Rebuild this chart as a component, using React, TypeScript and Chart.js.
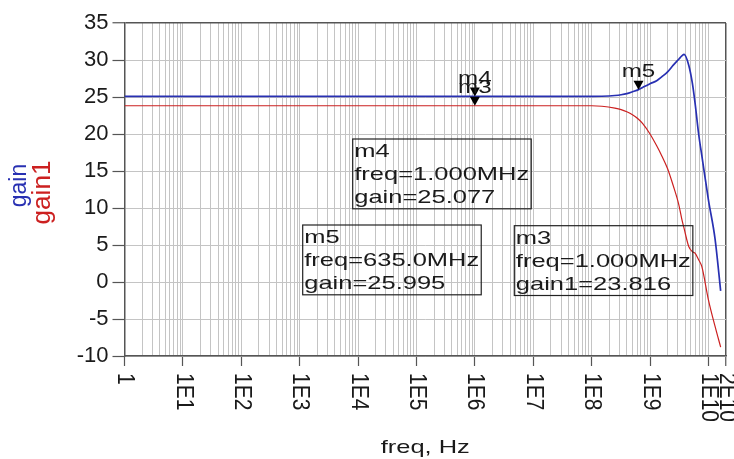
import React, { useEffect, useRef } from 'react';
import { Chart, registerables } from 'chart.js';

Chart.register(...registerables);

// ---------- data ----------
const freqHz = [1, 1e8, 1.5e8, 2.5e8, 3.2e8, 4e8, 5e8, 6.35e8, 7.5e8, 1e9, 1.3e9, 1.6e9, 2e9, 2.5e9, 3.1e9, 3.5e9, 3.84e9, 4.6e9, 5.3e9, 5.9e9, 6.8e9, 7.7e9, 1e10, 1.3e10, 1.62e10];
const gain = [25.077, 25.08, 25.1, 25.2, 25.3, 25.45, 25.7, 25.995, 26.3, 26.8, 27.2, 27.75, 28.4, 29.3, 30.1, 30.55, 30.75, 29.3, 26.9, 24.2, 20.0, 17.1, 11.1, 5.8, -1.2];
const gain1 = [23.816, 23.816, 23.75, 23.5, 23.3, 23.0, 22.6, 22.0, 21.4, 20.0, 18.4, 17.0, 15.3, 13.0, 10.5, 8.5, 7.2, 4.8, 4.1, 3.9, 3.0, 2.1, -2.4, -6.0, -8.8];

const seriesNames = ['gain', 'gain1'];

const xLabelValues = [1, 1e1, 1e2, 1e3, 1e4, 1e5, 1e6, 1e7, 1e8, 1e9, 1e10, 2e10];
const xTickLabels = ['1', '1E1', '1E2', '1E3', '1E4', '1E5', '1E6', '1E7', '1E8', '1E9', '1E10', '2E10'];
const xDecades = [1, 1e1, 1e2, 1e3, 1e4, 1e5, 1e6, 1e7, 1e8, 1e9, 1e10];
const xMinorMultipliers = [1, 2, 3, 4, 5, 6, 7, 8, 9];
const X_MIN = 1;
const X_MAX = 2e10;
const Y_MIN = -10;
const Y_MAX = 35;
const Y_STEP = 5;

const markerNames = ['m4', 'm5', 'm3'];
const markerFreqs = [1e6, 635e6, 1e6];
const markerValues = [25.077, 25.995, 23.816];
const markerSeries = ['gain', 'gain', 'gain1'];
const markerFreqText = ['1.000MHz', '635.0MHz', '1.000MHz'];

// ---------- layout / style ----------
const FONT = '"Liberation Sans", Arial, sans-serif';
const BLUE = 'rgb(40,48,178)';
const RED = 'rgb(204,32,32)';
const GRID = 'rgb(196,196,196)';
const BORDER = 'rgb(85,85,85)';
const TEXT = '#1a1a1a';
const boxLeft = [352.7, 302.7, 514.3];
const boxTop = [139, 225, 225.7];

const xGridValues: number[] = [];
xDecades.forEach((d) => {
  xMinorMultipliers.forEach((m) => {
    const v = d * m;
    if (v <= X_MAX) xGridValues.push(v);
  });
});
if (!xGridValues.includes(X_MAX)) xGridValues.push(X_MAX);

function drawText(
  ctx: CanvasRenderingContext2D,
  text: string,
  x: number,
  y: number,
  size: number,
  sx: number,
  color: string,
  align: CanvasTextAlign,
  baseline: CanvasTextBaseline = 'alphabetic',
  rot = 0,
  sy = 1
) {
  ctx.save();
  ctx.translate(x, y);
  if (rot) ctx.rotate(rot);
  ctx.scale(sx, sy);
  ctx.font = `${size}px ${FONT}`;
  ctx.fillStyle = color;
  ctx.textAlign = align;
  ctx.textBaseline = baseline;
  ctx.fillText(text, 0, 0);
  ctx.restore();
}

const overlayPlugin = {
  id: 'overlay',
  afterDraw(chart: any) {
    const { ctx, chartArea } = chart;
    const xs = chart.scales.x;
    const ys = chart.scales.y;

    // x tick labels, rotated clockwise
    xLabelValues.forEach((v, i) => {
      const px = xs.getPixelForValue(v);
      drawText(ctx, xTickLabels[i], px, chartArea.bottom + 17, 21, 1, TEXT, 'left', 'middle', Math.PI / 2, 1.1);
    });

    // x title
    drawText(ctx, 'freq, Hz', (chartArea.left + chartArea.right) / 2, 453, 19, 1.34, TEXT, 'center');

    // y title (two coloured lines)
    drawText(ctx, seriesNames[0], 25.5, 185.5, 23, 1, BLUE, 'center', 'alphabetic', -Math.PI / 2);
    drawText(ctx, seriesNames[1], 50, 192.5, 25, 1.05, RED, 'center', 'alphabetic', -Math.PI / 2);

    // markers
    markerNames.forEach((name, i) => {
      const px = xs.getPixelForValue(markerFreqs[i]);
      const py = ys.getPixelForValue(markerValues[i]);
      ctx.save();
      ctx.fillStyle = '#000';
      ctx.beginPath();
      ctx.moveTo(px - 5, py - 9);
      ctx.lineTo(px + 5, py - 9);
      ctx.lineTo(px, py);
      ctx.closePath();
      ctx.fill();
      ctx.restore();
      drawText(ctx, name, px, py - 12.5, 18, 1.34, TEXT, 'center');
    });

    // marker readout boxes
    const size = 19;
    const sx = 1.342;
    markerNames.forEach((name, i) => {
      const lines = [name, `freq=${markerFreqText[i]}`, `${markerSeries[i]}=${markerValues[i].toFixed(3)}`];
      ctx.save();
      ctx.font = `${size}px ${FONT}`;
      const w = Math.max(...lines.map((l) => ctx.measureText(l).width)) * sx + 3.5;
      ctx.restore();
      const left = boxLeft[i];
      const top = boxTop[i];
      const h = 18.4 + 2 * 22.7 + 6;
      ctx.save();
      ctx.strokeStyle = '#222';
      ctx.lineWidth = 1.2;
      ctx.strokeRect(left, top, w, h);
      ctx.restore();
      lines.forEach((l, j) => {
        drawText(ctx, l, left + 1.5, top + 18.4 + j * 22.7, size, sx, TEXT, 'left');
      });
    });
  },
};

export default function App() {
  const ref = useRef<HTMLCanvasElement | null>(null);

  useEffect(() => {
    if (!ref.current) return;
    const chart = new Chart(ref.current, {
      type: 'line',
      data: {
        datasets: [
          {
            label: seriesNames[0],
            data: freqHz.map((f, i) => ({ x: f, y: gain[i] })),
            borderColor: BLUE,
            borderWidth: 1.7,
            pointRadius: 0,
            cubicInterpolationMode: 'monotone',
            fill: false,
          },
          {
            label: seriesNames[1],
            data: freqHz.map((f, i) => ({ x: f, y: gain1[i] })),
            borderColor: RED,
            borderWidth: 1.2,
            pointRadius: 0,
            cubicInterpolationMode: 'monotone',
            fill: false,
          },
        ],
      },
      options: {
        responsive: false,
        animation: false,
        events: [],
        layout: { padding: { top: 23, right: 8, left: 0, bottom: 0 } },
        plugins: { legend: { display: false }, tooltip: { enabled: false }, title: { display: false } },
        scales: {
          x: {
            type: 'logarithmic',
            min: X_MIN,
            max: X_MAX,
            afterBuildTicks: (s: any) => {
              s.ticks = xGridValues.map((v) => ({ value: v }));
            },
            afterFit: (s: any) => {
              s.height = 103;
            },
            ticks: { display: false, autoSkip: false },
            grid: {
              color: (c: any) => (c.tick && c.tick.value === X_MAX ? BORDER : GRID),
              lineWidth: (c: any) => (c.tick && c.tick.value === X_MAX ? 1.5 : 1),
              tickLength: 10,
              tickColor: (c: any) => (c.tick && xLabelValues.includes(c.tick.value) ? BORDER : 'rgba(0,0,0,0)'),
              tickWidth: 1.2,
              drawTicks: true,
            },
            border: { display: true, color: BORDER, width: 1.5 },
          },
          y: {
            type: 'linear',
            min: Y_MIN,
            max: Y_MAX,
            afterFit: (s: any) => {
              s.width = 124.5;
            },
            ticks: { stepSize: Y_STEP, color: TEXT, font: { family: FONT, size: 22 }, padding: 4 },
            grid: {
              color: (c: any) => (c.tick && c.tick.value === Y_MAX ? BORDER : GRID),
              lineWidth: (c: any) => (c.tick && c.tick.value === Y_MAX ? 1.5 : 1),
              tickLength: 12,
              tickColor: BORDER,
              tickWidth: 1.2,
            },
            border: { display: true, color: BORDER, width: 1.5 },
          },
        },
      } as any,
      plugins: [overlayPlugin],
    });
    return () => chart.destroy();
  }, []);

  return (
    <div style={{ position: 'absolute', left: 0, top: 0, width: 734, height: 459, background: '#fff' }}>
      <canvas ref={ref} width={734} height={459} style={{ display: 'block', width: 734, height: 459 }} />
    </div>
  );
}
